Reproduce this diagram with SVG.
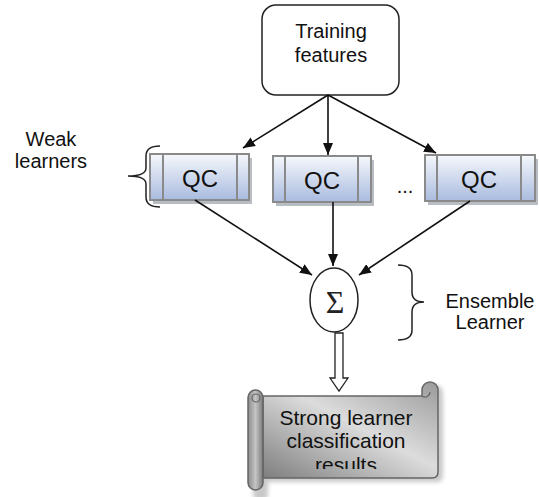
<svg xmlns="http://www.w3.org/2000/svg" width="539" height="497" viewBox="0 0 539 497">
<defs>
<style>
.t{font-family:"Liberation Sans",Arial,sans-serif;fill:#111;text-anchor:middle}
.qcb{fill:url(#qcg);stroke:#8a8a8a;stroke-width:2}
.qcs{fill:#9aa0aa;opacity:0.7}
.ln{stroke:#8a8a8a;stroke-width:2}
.edge{stroke:#111;stroke-width:1.6;fill:none;marker-end:url(#ah)}
.brace{fill:none;stroke:#222;stroke-width:1.5}
</style>
<linearGradient id="qcg" x1="0" y1="0" x2="0" y2="1">
<stop offset="0" stop-color="#f6f8fc"/>
<stop offset="1" stop-color="#a9bbdf"/>
</linearGradient>
<linearGradient id="sg" x1="0" y1="1" x2="1" y2="0">
<stop offset="0" stop-color="#7a7a7a"/>
<stop offset="0.55" stop-color="#dcdcdc"/>
<stop offset="1" stop-color="#9a9a9a"/>
</linearGradient>
<linearGradient id="rg" x1="0" y1="0" x2="1" y2="0">
<stop offset="0" stop-color="#8c8c8c"/>
<stop offset="0.5" stop-color="#c4c4c4"/>
<stop offset="1" stop-color="#7a7a7a"/>
</linearGradient>
<filter id="blur" x="-10%" y="-10%" width="130%" height="130%"><feGaussianBlur stdDeviation="2"/></filter>
<marker id="ah" viewBox="0 0 12 10" refX="12" refY="5" markerWidth="12" markerHeight="10" markerUnits="userSpaceOnUse" orient="auto">
<path d="M0 0 L12 5 L0 10 Z" fill="#111"/>
</marker>
<clipPath id="sc"><rect x="240" y="380" width="210" height="89"/></clipPath>
</defs>

<g id="training">
<rect x="262" y="5" width="137" height="90" rx="14" fill="#fff" stroke="#222" stroke-width="1.5"/>
<text class="t" x="331" y="38" font-size="20">Training</text>
<text class="t" x="331" y="62" font-size="20">features</text>
</g>

<g id="weak-label">
<text class="t" x="51" y="146" font-size="20">Weak</text>
<text class="t" x="51" y="168" font-size="20">learners</text>
<path class="brace" d="M160 146 Q146 146 146 156 V168 Q146 176 128 176 Q146 176 146 184 V197 Q146 207 160 207"/>
</g>

<g id="qc1">
<rect class="qcs" x="153" y="158" width="99" height="46"/>
<rect class="qcb" x="150" y="154" width="99" height="46"/>
<line class="ln" x1="163" y1="154" x2="163" y2="200"/>
<line class="ln" x1="237" y1="154" x2="237" y2="200"/>
<text class="t" x="200" y="187" font-size="24">QC</text>
</g>
<g id="qc2">
<rect class="qcs" x="276" y="160" width="98" height="46"/>
<rect class="qcb" x="273" y="156" width="98" height="46"/>
<line class="ln" x1="285" y1="156" x2="285" y2="202"/>
<line class="ln" x1="358" y1="156" x2="358" y2="202"/>
<text class="t" x="322" y="189" font-size="24">QC</text>
</g>
<text class="t" x="405" y="193" font-size="20">...</text>
<g id="qc3">
<rect class="qcs" x="428" y="159" width="110" height="46"/>
<rect class="qcb" x="425" y="155" width="110" height="46"/>
<line class="ln" x1="437" y1="155" x2="437" y2="201"/>
<line class="ln" x1="521" y1="155" x2="521" y2="201"/>
<text class="t" x="479" y="188" font-size="24">QC</text>
</g>

<g id="ensemble">
<ellipse cx="334" cy="300" rx="24" ry="32" fill="#fff" stroke="#222" stroke-width="1.5"/>
<text x="335" y="313" font-family="Liberation Serif,serif" font-size="32" text-anchor="middle" fill="#222">Σ</text>
</g>

<g id="ensemble-label">
<path class="brace" d="M398 265 Q412 265 412 275 V292 Q412 302 424 302 Q412 302 412 312 V330 Q412 340 398 340"/>
<text class="t" x="490" y="308" font-size="20">Ensemble</text>
<text class="t" x="490" y="329" font-size="20">Learner</text>
</g>

<g id="result">
<path d="M258 401 H427 V393 A8 8 0 0 1 443 393 V476 Q443 482 437 482 H268 V494 A7 7 0 0 1 253 494 V401 Z" fill="#bbb" filter="url(#blur)" opacity="0.8"/>
<path d="M255 396 H422 V390 A8 8 0 0 1 438 390 V472 Q438 478 432 478 H263 V396 Z" fill="url(#sg)" stroke="#666" stroke-width="1.5"/>
<path d="M422 396 A5 5 0 0 0 430 392" fill="none" stroke="#666" stroke-width="1.2"/>
<rect x="248" y="390" width="15" height="100" rx="7.5" fill="url(#rg)" stroke="#666" stroke-width="1.5"/>
<circle cx="256" cy="398" r="4" fill="none" stroke="#666" stroke-width="1.2"/>
<g clip-path="url(#sc)">
<text class="t" x="346" y="425" font-size="21">Strong learner</text>
<text class="t" x="346" y="448" font-size="21">classification</text>
<text class="t" x="346" y="472" font-size="21">results</text>
</g>
</g>

<g id="connectors">
<line class="edge" x1="328" y1="95" x2="243" y2="148"/>
<line class="edge" x1="328" y1="95" x2="328" y2="155"/>
<line class="edge" x1="328" y1="95" x2="436" y2="153"/>
<line class="edge" x1="195" y1="200" x2="312" y2="275"/>
<line class="edge" x1="333" y1="202" x2="333" y2="266"/>
<line class="edge" x1="470" y1="201" x2="359" y2="275"/>
<polygon points="335,333 343,333 343,378 348,378 339,391 330,378 335,378" fill="#fff" stroke="#222" stroke-width="1.3"/>
</g>
</svg>
